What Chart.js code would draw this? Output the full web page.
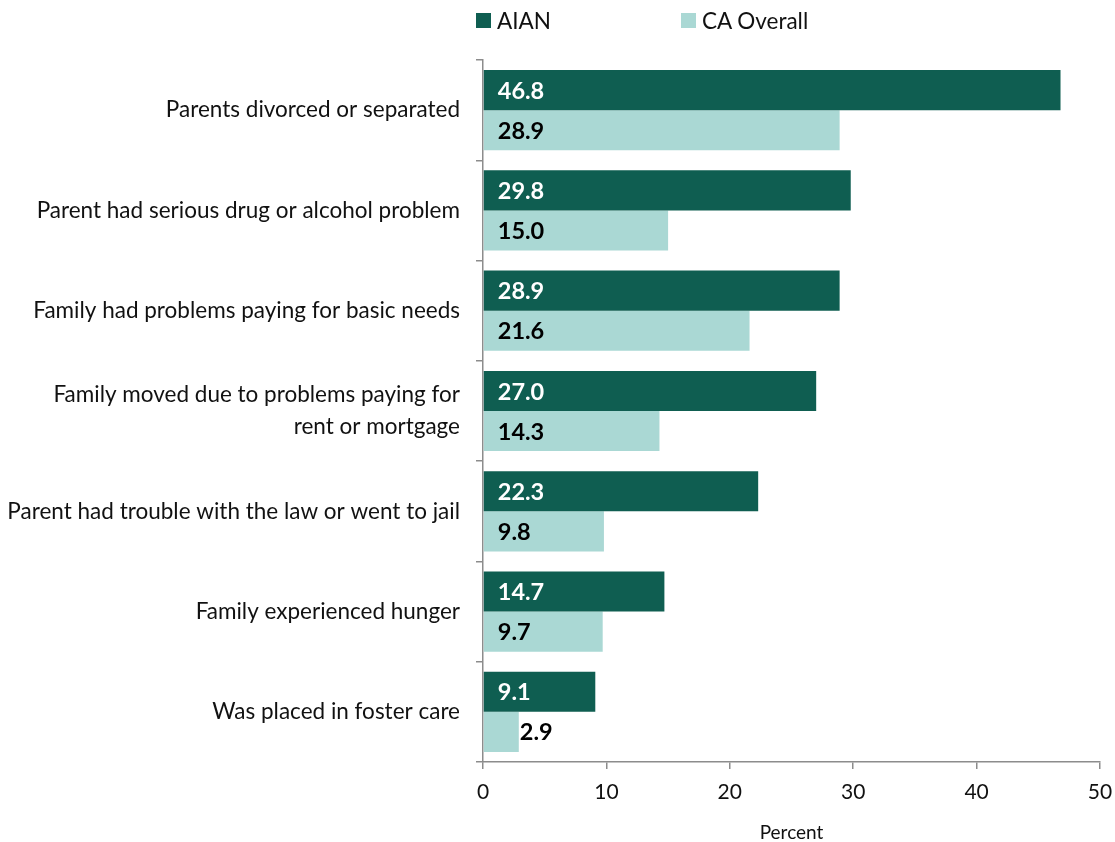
<!DOCTYPE html>
<html>
<head>
<meta charset="utf-8">
<script src="https://cdn.jsdelivr.net/npm/chart.js@4.4.0/dist/chart.umd.min.js"></script>
<style>
  body { margin:0; background:#fff; }
  #wrap { position:relative; width:1115px; height:842px; }
  #legend { position:absolute; top:7px; left:476px; font-family:Lato, sans-serif; font-size:22.5px; color:#111; }
  #legend span.item { position:absolute; white-space:nowrap; display:flex; align-items:center; }
  #legend span.box { display:inline-block; width:15px; height:15px; margin-right:6px; }
</style>
</head>
<body>
<div id="wrap">
  <canvas id="chart" width="1115" height="842"></canvas>
  <div id="legend"></div>
</div>
<script>
const categories = [
  'Parents divorced or separated',
  'Parent had serious drug or alcohol problem',
  'Family had problems paying for basic needs',
  ['Family moved due to problems paying for', 'rent or mortgage'],
  'Parent had trouble with the law or went to jail',
  'Family experienced hunger',
  'Was placed in foster care'
];
const aianValues = [46.8, 29.8, 28.9, 27.0, 22.3, 14.7, 9.1];
const caValues = [28.9, 15.0, 21.6, 14.3, 9.8, 9.7, 2.9];
const seriesNames = ['AIAN', 'CA Overall'];
const seriesColors = ['#0f5e51', '#aad8d4'];
const labelColors = ['#ffffff', '#000000'];
const xTicks = [0, 10, 20, 30, 40, 50];

// legend
const legend = document.getElementById('legend');
const legendOffsets = [0, 205];
seriesNames.forEach((name, i) => {
  const it = document.createElement('span');
  it.className = 'item';
  it.style.left = legendOffsets[i] + 'px';
  it.innerHTML = '<span class="box" style="background:' + seriesColors[i] + '"></span>' + name;
  legend.appendChild(it);
});

// value labels inside bars (or after the bar when it is too short)
const valueLabels = {
  id: 'valueLabels',
  afterDatasetsDraw(chart) {
    const ctx = chart.ctx;
    ctx.save();
    ctx.font = 'bold 23.5px Lato, sans-serif';
    ctx.textBaseline = 'middle';
    ctx.textAlign = 'left';
    chart.data.datasets.forEach((ds, di) => {
      chart.getDatasetMeta(di).data.forEach((bar, i) => {
        const txt = ds.data[i].toFixed(1);
        const w = ctx.measureText(txt).width;
        let x = bar.base + 14;
        let color = labelColors[di];
        if (x + w > bar.x - 4) { x = bar.x + 1; color = '#000'; }
        ctx.fillStyle = color;
        ctx.fillText(txt, x, bar.y + 1);
      });
    });
    ctx.restore();
  }
};

new Chart(document.getElementById('chart'), {
  type: 'bar',
  data: {
    labels: categories,
    datasets: [
      { label: seriesNames[0], data: aianValues, backgroundColor: seriesColors[0] },
      { label: seriesNames[1], data: caValues, backgroundColor: seriesColors[1] }
    ]
  },
  options: {
    indexAxis: 'y',
    responsive: false,
    animation: false,
    layout: { padding: { top: 60, right: 15, bottom: 0, left: 0 } },
    datasets: { bar: { categoryPercentage: 0.8, barPercentage: 1.0 } },
    plugins: { legend: { display: false }, tooltip: { enabled: false } },
    scales: {
      x: {
        min: 0, max: 50,
        afterBuildTicks: s => { s.ticks = xTicks.map(v => ({ value: v })); },
        afterFit: s => { s.height = 80; s.paddingLeft = 0; s.paddingRight = 0; },
        border: { color: '#8c8c8c', width: 1.5 },
        grid: { drawOnChartArea: false, color: '#8c8c8c', tickLength: 7, lineWidth: 1.5 },
        ticks: { color: '#111', padding: 11, font: { family: 'Lato', size: 21 } },
        title: { display: true, text: 'Percent', color: '#111', padding: { top: 0, bottom: -2 }, font: { family: 'Lato', size: 19 } }
      },
      y: {
        afterFit: s => { s.width = 483; },
        border: { color: '#8c8c8c', width: 1.5 },
        grid: { offset: true, drawOnChartArea: false, color: '#8c8c8c', tickLength: 7, lineWidth: 1.5 },
        ticks: { color: '#111', padding: 16, font: { family: 'Lato', size: 22.5, lineHeight: 1.42 } }
      }
    }
  },
  plugins: [valueLabels]
});
</script>
</body>
</html>
